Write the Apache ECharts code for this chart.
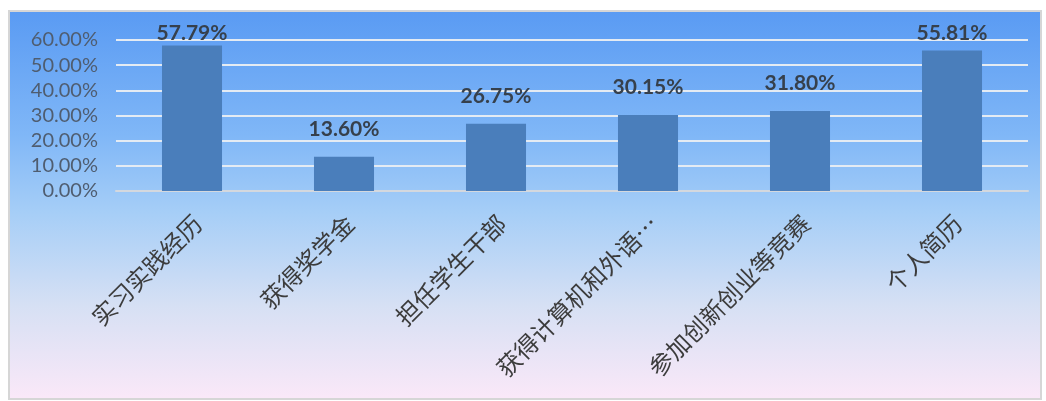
<!DOCTYPE html>
<html><head><meta charset="utf-8">
<script src="https://cdn.jsdelivr.net/npm/echarts@6/dist/echarts.min.js"></script>
<style>
html,body{margin:0;padding:0;background:#fff;}
#bg{position:absolute;left:8px;top:10px;width:1030px;height:386px;border:2px solid #d6d6d6;
background:linear-gradient(to bottom,#5a9bf3 0%,#80b7f7 32%,#a6cef7 52%,#d6e0f4 76%,#fae8f8 100%);}
#c{position:absolute;left:0;top:0;width:1046px;height:401px;}
</style></head>
<body><div id="bg"></div><div id="c"></div>
<script>
const categories = ['实习实践经历','获得奖学金','担任学生干部','获得计算机和外语…','参加创新创业等竞赛','个人简历'];
const values = [57.79, 13.60, 26.75, 30.15, 31.80, 55.81];
const yTicks = [0, 10, 20, 30, 40, 50, 60];

const chart = echarts.init(document.getElementById('c'), null, {renderer:'canvas'});
const gridTop = 40, gridBottom = 210, H = 401;
const plotH = H - gridTop - gridBottom;
const yMax = yTicks[yTicks.length-1];
// Excel-style: labels sit above bars, but never higher than the top band
const labelData = values.map(v => {
  const barTop = gridTop + (1 - v / yMax) * plotH;
  const center = Math.max(gridTop - 7, barTop - 28);
  return {value: v, label: {distance: Math.max(1, barTop - center - 11)}};
});
chart.setOption({
  backgroundColor: 'transparent',
  animation: false,
  grid: {left: 116, right: 18, top: gridTop, bottom: gridBottom, containLabel: false},
  xAxis: {
    type: 'category', data: categories,
    axisTick: {show: false},
    axisLine: {show: true, lineStyle: {color: '#d4d8de', width: 2}},
    axisLabel: {rotate: 45, interval: 0, margin: 34, fontSize: 24, fontWeight: 'normal',
      padding: [0, -8, 0, 0],
      fontFamily: '"Noto Sans CJK SC", sans-serif', color: '#3c3c3c'}
  },
  yAxis: {
    type: 'value', min: yTicks[0], max: yMax, interval: 10,
    axisLine: {show: false}, axisTick: {show: false},
    splitLine: {lineStyle: {color: '#e4ebf3', width: 2}},
    axisLabel: {margin: 18, fontSize: 20, fontFamily: 'Lato, "Open Sans", sans-serif', color: '#4f5d70',
      formatter: v => v.toFixed(2) + '%'}
  },
  series: [{
    type: 'bar', data: labelData, barWidth: '39.5%',
    itemStyle: {color: '#4a7ebb'},
    label: {show: true, position: 'top', fontSize: 21, fontWeight: 'bold',
      fontFamily: 'Lato, "Open Sans", sans-serif', color: '#36404c',
      formatter: p => p.value.toFixed(2) + '%'}
  }]
});
</script></body></html>
